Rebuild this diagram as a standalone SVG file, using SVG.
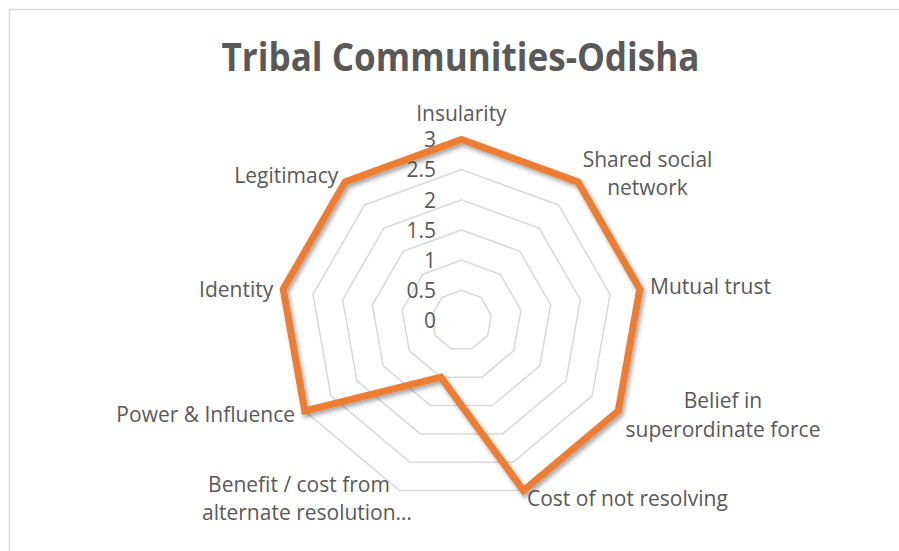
<svg xmlns="http://www.w3.org/2000/svg" width="899" height="551" viewBox="0 0 899 551">
  <style>
    .lbl { font-family: "Open Sans", "Liberation Sans", sans-serif; font-size: 21px; fill: #595959; }
    .val { font-family: "Open Sans", "Liberation Sans", sans-serif; font-size: 21px; fill: #595959; text-anchor: end; }
    .grid { fill: none; stroke: #d9d9d9; stroke-width: 1.5; }
    .series { fill: none; stroke: #ed7d31; stroke-width: 7; stroke-linejoin: miter; stroke-miterlimit: 10; }
    .title { font-family: "Open Sans", "Liberation Sans", sans-serif; font-size: 39px; font-weight: bold; fill: #595959; }
  </style>
  <defs>
    <filter id="shadow" x="-10%" y="-10%" width="120%" height="120%">
      <feDropShadow dx="2" dy="3" stdDeviation="2" flood-color="#000" flood-opacity="0.35"/>
    </filter>
  </defs>
  <rect x="0" y="0" width="899" height="551" fill="#ffffff"/>
  <rect id="frame" x="9.5" y="9.5" width="1000" height="1000" fill="#ffffff" stroke="#d9d9d9" stroke-width="1.5"/>

  <g id="title">
    <text class="title" x="221.5" y="70.5" textLength="478" lengthAdjust="spacingAndGlyphs">Tribal Communities-Odisha</text>
  </g>

  <g id="gridlines">
    <polygon class="grid" points="461.5,290.33 480.89,297.39 491.21,315.26 487.63,335.59 471.82,348.85 451.18,348.85 435.37,335.59 431.79,315.26 442.11,297.39"/>
    <polygon class="grid" points="461.5,260.17 500.28,274.29 520.91,310.03 513.75,350.67 482.13,377.19 440.87,377.19 409.25,350.67 402.09,310.03 422.72,274.29"/>
    <polygon class="grid" points="461.5,230 519.67,251.18 550.62,304.79 539.88,365.75 492.45,405.54 430.55,405.54 383.12,365.75 372.38,304.79 403.33,251.18"/>
    <polygon class="grid" points="461.5,199.83 539.07,228.07 580.34,299.55 566,380.83 502.77,433.89 420.23,433.89 357,380.83 342.66,299.55 383.93,228.07"/>
    <polygon class="grid" points="461.5,169.67 558.45,204.96 610.04,294.32 592.12,395.92 513.08,462.24 409.92,462.24 330.88,395.92 312.96,294.32 364.55,204.96"/>
    <polygon class="grid" points="461.5,139.5 577.85,181.85 639.75,289.08 618.25,411 523.4,490.59 399.6,490.59 304.75,411 283.25,289.08 345.15,181.85"/>
  </g>

  <g id="value-axis">
    <text class="val" x="436" y="328">0</text>
    <text class="val" x="436" y="298">0.5</text>
    <text class="val" x="436" y="268">1</text>
    <text class="val" x="436" y="237.5">1.5</text>
    <text class="val" x="436" y="207.5">2</text>
    <text class="val" x="436" y="177">2.5</text>
    <text class="val" x="436" y="147">3</text>
  </g>

  <g id="connectors">
    <polygon class="series" filter="url(#shadow)" points="461.5,139.5 577.85,181.85 639.75,289.08 618.25,411 523.4,490.59 440.87,377.19 304.75,411 283.25,289.08 345.15,181.85"/>
  </g>

  <g id="axis-insularity"><text class="lbl" x="461.4" y="120.7" text-anchor="middle">Insularity</text></g>
  <g id="axis-shared-social-network">
    <text class="lbl" x="647.5" y="166.7" text-anchor="middle">Shared social</text>
    <text class="lbl" x="647.5" y="195" text-anchor="middle">network</text>
  </g>
  <g id="axis-mutual-trust"><text class="lbl" x="650" y="294">Mutual trust</text></g>
  <g id="axis-belief">
    <text class="lbl" x="723" y="408" text-anchor="middle">Belief in</text>
    <text class="lbl" x="723" y="436.7" text-anchor="middle">superordinate force</text>
  </g>
  <g id="axis-cost"><text class="lbl" x="527" y="505.7">Cost of not resolving</text></g>
  <g id="axis-benefit">
    <text class="lbl" x="299" y="491.7" text-anchor="middle">Benefit / cost from</text>
    <text class="lbl" x="307" y="520" text-anchor="middle">alternate resolution…</text>
  </g>
  <g id="axis-power"><text class="lbl" x="295" y="422" text-anchor="end">Power &amp; Influence</text></g>
  <g id="axis-identity"><text class="lbl" x="273.3" y="296.7" text-anchor="end">Identity</text></g>
  <g id="axis-legitimacy"><text class="lbl" x="338.3" y="182.7" text-anchor="end">Legitimacy</text></g>
</svg>
